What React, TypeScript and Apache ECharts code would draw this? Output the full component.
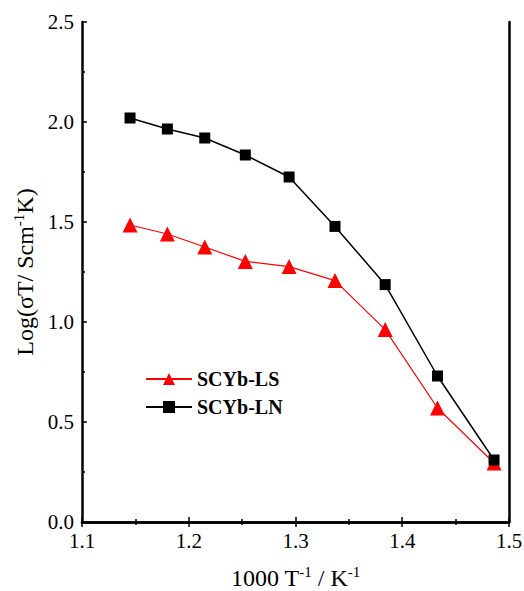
import React, { useEffect, useRef } from "react";
import * as echarts from "echarts";

const xValues = [1.145, 1.18, 1.215, 1.253, 1.294, 1.337, 1.384, 1.433, 1.486];
const lnValues = [2.02, 1.965, 1.92, 1.835, 1.725, 1.478, 1.187, 0.73, 0.31];
const lsValues = [1.485, 1.44, 1.375, 1.303, 1.277, 1.207, 0.962, 0.57, 0.295];
const seriesNames = ["SCYb-LS", "SCYb-LN"];

const FONT = "Liberation Serif";
const TICKFONT = "Times New Roman, Liberation Serif, serif";

export default function App() {
  const ref = useRef<HTMLDivElement>(null);
  useEffect(() => {
    if (!ref.current) return;
    const chart = echarts.init(ref.current, undefined, { renderer: "svg" });
    const pair = (ys: number[]) => xValues.map((x, i) => [x, ys[i]]);
    const makeTickLabel = () => ({
      fontFamily: TICKFONT,
      fontSize: 21,
      fontWeight: "normal",
      color: "#000",
      margin: 8,
      formatter: (v: number) => v.toFixed(1),
    });
    const nameRich = {
      n: { fontFamily: FONT, fontSize: 24, color: "#000" },
      s: { fontFamily: FONT, fontSize: 15, color: "#000", verticalAlign: "top", padding: [0, 0, 12, 0] },
    };
    chart.setOption({
      animation: false,
      backgroundColor: "#fff",
      textStyle: { fontFamily: FONT, fontSize: 21, color: "#000" },
      grid: { left: 82, right: 15, top: 22, bottom: 69, containLabel: false, outerBoundsMode: "none" },
      legend: {
        orient: "vertical",
        left: 140,
        top: 364,
        itemWidth: 46,
        itemHeight: 15,
        itemGap: 8,
        data: seriesNames,
        textStyle: { fontFamily: FONT, fontWeight: "bold", fontSize: 20, color: "#000" },
      },
      xAxis: [
        {
          type: "value",
          min: 1.1,
          max: 1.5,
          interval: 0.1,
          position: "bottom",
          name: "{n|1000 T}{s|-1}{n| / K}{s|-1}",
          nameLocation: "middle",
          nameGap: 42,
          nameTextStyle: { rich: nameRich },
          axisLine: { show: true, lineStyle: { color: "#000", width: 2.5 } },
          axisTick: { inside: true, length: 5, lineStyle: { color: "#000", width: 1.5 } },
          minorTick: { show: true, splitNumber: 2, length: 3, lineStyle: { color: "#000", width: 1.5 } },
          axisLabel: makeTickLabel(),
          splitLine: { show: false },
        },
        {
          type: "value",
          min: 1.1,
          max: 1.5,
          interval: 0.1,
          position: "top",
          axisLine: { show: true, lineStyle: { color: "#000", width: 2.5 } },
          axisTick: { inside: true, length: 5, lineStyle: { color: "#000", width: 1.5 } },
          minorTick: { show: true, splitNumber: 2, length: 3, lineStyle: { color: "#000", width: 1.5 } },
          axisLabel: { show: false },
          splitLine: { show: false },
        },
      ],
      yAxis: [
        {
          type: "value",
          min: 0,
          max: 2.5,
          interval: 0.5,
          position: "left",
          name: "{n|Log(σT/ Scm}{s|-1}{n|K)}",
          nameLocation: "middle",
          nameRotate: 90,
          nameGap: 42,
          nameTextStyle: { rich: nameRich },
          axisLine: { show: true, lineStyle: { color: "#000", width: 2.5 } },
          axisTick: { inside: true, length: 5, lineStyle: { color: "#000", width: 1.5 } },
          minorTick: { show: true, splitNumber: 2, length: 3, lineStyle: { color: "#000", width: 1.5 } },
          axisLabel: makeTickLabel(),
          splitLine: { show: false },
        },
        {
          type: "value",
          min: 0,
          max: 2.5,
          interval: 0.5,
          position: "right",
          axisLine: { show: true, lineStyle: { color: "#000", width: 2.5 } },
          axisTick: { show: false },
          axisLabel: { show: false },
          splitLine: { show: false },
        },
      ],
      series: [
        {
          name: seriesNames[0],
          type: "line",
          data: pair(lsValues),
          symbol: "triangle",
          symbolSize: 15,
          itemStyle: { color: "#ff0000" },
          lineStyle: { color: "#ff0000", width: 1.2 },
          z: 2,
        },
        {
          name: seriesNames[1],
          type: "line",
          data: pair(lnValues),
          symbol: "rect",
          symbolSize: 11,
          itemStyle: { color: "#000" },
          lineStyle: { color: "#000", width: 1.5 },
          z: 3,
        },
      ],
    });
    return () => chart.dispose();
  }, []);
  return <div ref={ref} style={{ width: 524, height: 591, position: "absolute", left: 0, top: 0 }} />;
}
